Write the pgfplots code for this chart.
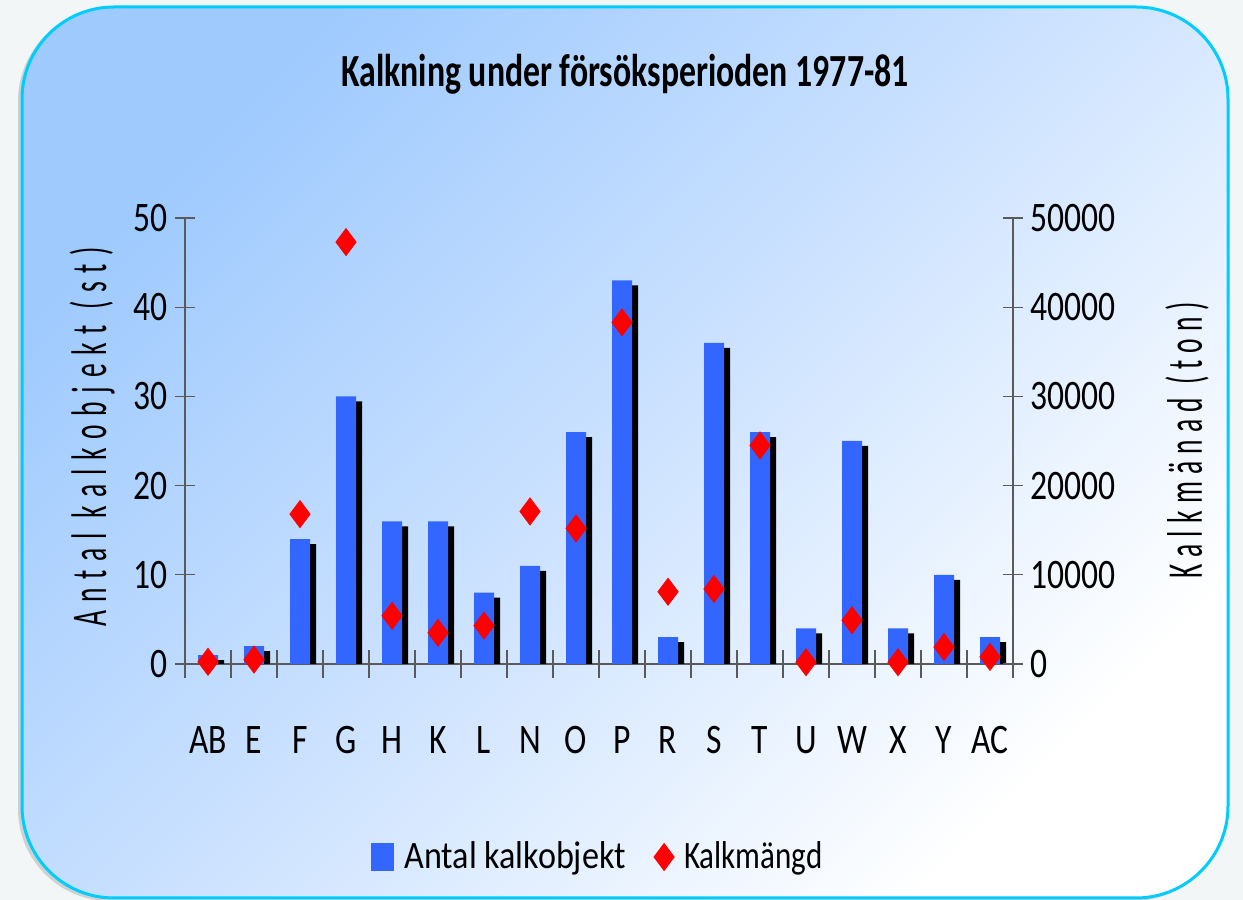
\documentclass[border=0pt]{standalone}
\usepackage{fontspec}
\setmainfont{Carlito}
\usepackage{graphicx}
\usepackage{pgfplots}
\pgfplotsset{compat=1.18}

\definecolor{barblue}{HTML}{3366FF}
\definecolor{frameedge}{HTML}{00CCFF}
\definecolor{bgtop}{HTML}{9ECAFE}
\definecolor{bgmid}{HTML}{CCE2FF}
\definecolor{outside}{HTML}{F2F6F6}
\definecolor{axisgray}{HTML}{5A5A5A}

% narrow the text horizontally (the original font is condensed)
\newcommand{\nar}[2][0.8]{\scalebox{#1}[1]{#2}}

\pgfplotstableread{
cat  antal  mangd
0    1      250
1    2      500
2    14     16800
3    30     47300
4    16     5400
5    16     3500
6    8      4300
7    11     17100
8    26     15200
9    43     38300
10   3      8100
11   36     8400
12   26     24500
13   4      200
14   25     4900
15   4      200
16   10     1900
17   3      800
}\kalkdata

\begin{document}
\begin{tikzpicture}
% background and frame
\path[use as bounding box] (0,0) rectangle (621.5pt,450pt);
\fill[outside] (0,0) rectangle (621.5pt,450pt);
\fill[gray!70, opacity=0.45, rounded corners=46pt] (9pt,-0.5pt) rectangle (612.5pt,445.5pt);
\shade[rounded corners=46pt, top color=bgtop, bottom color=white, middle color=bgmid, shading angle=45]
  (11pt,1pt) rectangle (614pt,446.5pt);
\draw[frameedge, line width=1.5pt, rounded corners=46pt] (11pt,1pt) rectangle (614pt,446.5pt);

\node[font=\bfseries\fontsize{23}{27}\selectfont] at (312.5pt,413pt)
  {\nar[0.735]{Kalkning under försöksperioden 1977-81}};
\node[rotate=90, font=\fontsize{25}{30}\selectfont] at (46pt,231.5pt)
  {\nar[0.55]{\addfontfeature{LetterSpace=32}Antal kalkobjekt (st)}};
\node[rotate=90, font=\fontsize{25}{30}\selectfont] at (593.5pt,230pt)
  {\nar[0.55]{\addfontfeature{LetterSpace=26}Kalkmänad (ton)}};

\pgfplotsset{
  kalkaxis/.style={
    at={(92.5pt,118pt)}, anchor=south west,
    scale only axis, width=414pt, height=223pt,
    xmin=-0.5, xmax=17.5,
    axis line style={-, axisgray, line width=0.6pt},
    every tick/.style={axisgray, line width=0.6pt},
    tick align=center, major tick length=10pt,
    /pgf/number format/assume math mode=true,
    tick label style={font=\fontsize{21}{25}\selectfont},
  }
}

\begin{axis}[
  kalkaxis,
  ymin=0, ymax=50,
  axis x line*=bottom, axis y line*=left,
  ytick={0,10,...,50},
  yticklabel={\nar{\pgfmathprintnumber{\tick}}},
  xtick={0,...,17},
  xticklabels={\nar{AB},\nar{E},\nar{F},\nar{G},\nar{H},\nar{K},\nar{L},\nar{N},\nar{O},
    \nar{P},\nar{R},\nar{S},\nar{T},\nar{U},\nar{W},\nar{X},\nar{Y},\nar{AC}},
  major x tick style={draw opacity=0},
  xticklabel style={anchor=base, yshift=-40pt},
  extra x ticks={-0.5,0.5,...,17.5},
  extra x tick labels={},
  extra x tick style={major tick length=14pt, major x tick style={draw opacity=1}},
]
\addplot[ybar, bar width=10pt, fill=barblue, draw=none,
  preaction={fill=black, transform canvas={shift={(3pt,-2.5pt)}}}]
  table[x=cat, y=antal] {\kalkdata};
\end{axis}

\begin{axis}[
  kalkaxis,
  ymin=0, ymax=50000,
  axis x line=none, axis y line*=right,
  ytick={0,10000,...,50000},
  scaled y ticks=false,
  yticklabel={\nar{\pgfmathprintnumber[1000 sep={}]{\tick}}},
  clip mode=individual,
  legend style={at={(0.5,-0.4327)}, anchor=center, draw=none, fill=none,
    legend columns=2, font=\fontsize{19.4}{23}\selectfont,
    /tikz/every odd column/.append style={column sep=3pt},
    /tikz/every even column/.append style={column sep=12pt}},
]
\addlegendimage{legend image code/.code={\fill[barblue] (0pt,-6.75pt) rectangle (11pt,6.75pt);}}
\addlegendentry{\nar[0.88]{Antal kalkobjekt}}
\addplot[only marks, mark=diamond*, mark size=6.75pt, color=red]
  table[x=cat, y=mangd] {\kalkdata};
\addlegendentry{\nar[0.8]{Kalkmängd}}
\end{axis}
\end{tikzpicture}
\end{document}
